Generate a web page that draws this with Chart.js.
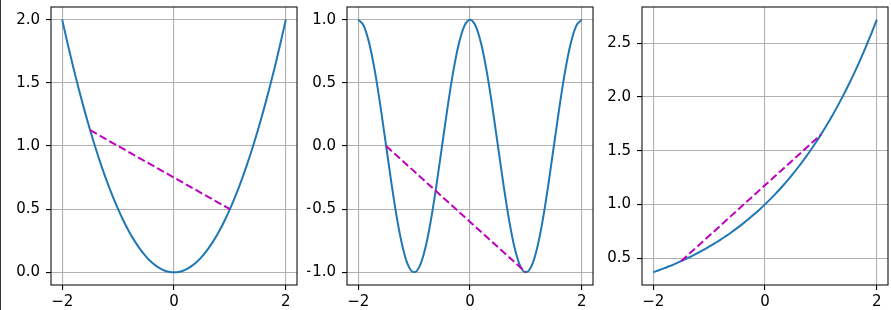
<!DOCTYPE html>
<html>
<head>
<meta charset="utf-8">
<script src="https://cdn.jsdelivr.net/npm/chart.js@4.4.0/dist/chart.umd.min.js"></script>
<style>
  html, body { margin: 0; padding: 0; background: #fff; }
  #fig { position: relative; width: 891px; height: 310px; overflow: hidden; }
  .panel { position: absolute; top: 0; width: 288px; height: 310px; }
  #edge { position: absolute; left: 0; top: 0; width: 1px; height: 310px; background: #333; }
</style>
</head>
<body>
<div id="fig">
  <div id="edge"></div>
  <div class="panel" style="left:11px"><canvas id="c1"></canvas></div>
  <div class="panel" style="left:306.7px"><canvas id="c2"></canvas></div>
  <div class="panel" style="left:601.7px"><canvas id="c3"></canvas></div>
</div>
<script>
  // x grid shared by the three curves
  var xs = [-2.0, -1.9, -1.8, -1.7, -1.6, -1.5, -1.4, -1.3, -1.2, -1.1, -1.0,
            -0.9, -0.8, -0.7, -0.6, -0.5, -0.4, -0.3, -0.2, -0.1, 0.0,
             0.1,  0.2,  0.3,  0.4,  0.5,  0.6,  0.7,  0.8,  0.9, 1.0,
             1.1,  1.2,  1.3,  1.4,  1.5,  1.6,  1.7,  1.8,  1.9, 2.0];

  // left panel: parabola
  var parabola = [2.000, 1.805, 1.620, 1.445, 1.280, 1.125, 0.980, 0.845, 0.720, 0.605, 0.500,
                  0.405, 0.320, 0.245, 0.180, 0.125, 0.080, 0.045, 0.020, 0.005, 0.000,
                  0.005, 0.020, 0.045, 0.080, 0.125, 0.180, 0.245, 0.320, 0.405, 0.500,
                  0.605, 0.720, 0.845, 0.980, 1.125, 1.280, 1.445, 1.620, 1.805, 2.000];

  // middle panel: cosine wave
  var wave = [1.000, 0.951, 0.809, 0.588, 0.309, 0.000, -0.309, -0.588, -0.809, -0.951, -1.000,
              -0.951, -0.809, -0.588, -0.309, 0.000, 0.309, 0.588, 0.809, 0.951, 1.000,
              0.951, 0.809, 0.588, 0.309, 0.000, -0.309, -0.588, -0.809, -0.951, -1.000,
              -0.951, -0.809, -0.588, -0.309, 0.000, 0.309, 0.588, 0.809, 0.951, 1.000];

  // right panel: exponential
  var growth = [0.368, 0.387, 0.407, 0.427, 0.449, 0.472, 0.497, 0.522, 0.549, 0.577, 0.607,
                0.638, 0.670, 0.705, 0.741, 0.779, 0.819, 0.861, 0.905, 0.951, 1.000,
                1.051, 1.105, 1.162, 1.221, 1.284, 1.350, 1.419, 1.492, 1.568, 1.649,
                1.733, 1.822, 1.916, 2.014, 2.117, 2.226, 2.340, 2.460, 2.586, 2.718];

  // dashed chords
  var chordX = [-1.5, 1.0];
  var chord1 = [1.125, 0.5];
  var chord2 = [0.0, -1.0];
  var chord3 = [0.472, 1.649];

  // tick labels
  var xTicks = [-2, 0, 2];
  var yTicks1 = [0.0, 0.5, 1.0, 1.5, 2.0];
  var yTicks2 = [-1.0, -0.5, 0.0, 0.5, 1.0];
  var yTicks3 = [0.5, 1.0, 1.5, 2.0, 2.5];

  var font = { family: 'DejaVu Sans', size: 15 };

  var frame = {
    id: 'frame',
    afterDraw: function(chart) {
      var a = chart.chartArea;
      var ctx = chart.ctx;
      ctx.save();
      ctx.strokeStyle = '#111';
      ctx.lineWidth = 1.1;
      ctx.strokeRect(a.left, a.top, a.right - a.left, a.bottom - a.top);
      ctx.restore();
    }
  };

  var pairs = function(xv, yv) {
    return xv.map(function(x, i) { return { x: x, y: yv[i] }; });
  };

  var minus = function(s) { return s.replace('-', '\u2212'); };

  var makeChart = function(id, curve, chord, yMin, yMax, yTicks) {
    return new Chart(document.getElementById(id), {
      type: 'line',
      data: {
        datasets: [
          {
            data: pairs(chordX, chord),
            borderColor: '#bf00bf',
            borderWidth: 2,
            borderDash: [7.7, 3.3],
            pointRadius: 0,
            fill: false
          },
          {
            data: pairs(xs, curve),
            borderColor: '#1f77b4',
            borderWidth: 2,
            pointRadius: 0,
            cubicInterpolationMode: 'monotone',
            fill: false
          }
        ]
      },
      options: {
        responsive: true,
        maintainAspectRatio: false,
        animation: false,
        layout: { padding: { top: 7, right: 2, left: 0, bottom: 0 } },
        plugins: { legend: { display: false }, tooltip: { enabled: false } },
        scales: {
          x: {
            type: 'linear', min: -2.2, max: 2.2,
            afterBuildTicks: function(s) { s.ticks = xTicks.map(function(v) { return { value: v }; }); },
            afterFit: function(s) { s.height = 25; s.paddingLeft = 0; s.paddingRight = 0; },
            grid: { color: '#b0b0b0', lineWidth: 1.1, tickColor: '#000', tickLength: 5 },
            border: { display: false },
            ticks: {
              font: font, color: '#000', padding: 3, maxRotation: 0, autoSkip: false,
              callback: function(v) { return minus(String(v)); }
            }
          },
          y: {
            type: 'linear', min: yMin, max: yMax,
            afterBuildTicks: function(s) { s.ticks = yTicks.map(function(v) { return { value: v }; }); },
            afterFit: function(s) { s.width = 40; s.paddingTop = 0; s.paddingBottom = 0; },
            grid: { color: '#b0b0b0', lineWidth: 1.1, tickColor: '#000', tickLength: 5 },
            border: { display: false },
            ticks: {
              font: font, color: '#000', padding: 6, autoSkip: false,
              callback: function(v) { return minus(v.toFixed(1)); }
            }
          }
        }
      },
      plugins: [frame]
    });
  };

  makeChart('c1', parabola, chord1, -0.1, 2.1, yTicks1);
  makeChart('c2', wave, chord2, -1.1, 1.1, yTicks2);
  makeChart('c3', growth, chord3, 0.2504, 2.8357, yTicks3);
</script>
</body>
</html>
